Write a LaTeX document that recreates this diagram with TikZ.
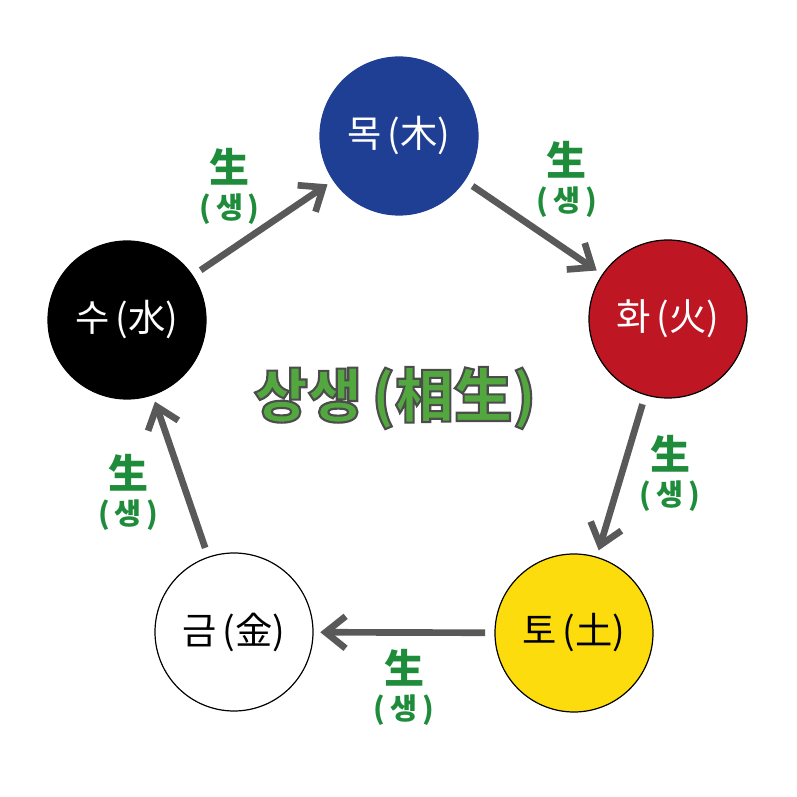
\documentclass[tikz,border=0pt]{standalone}
\usepackage{fontspec}
\newfontfamily\krfont{Noto Sans CJK KR}
\usetikzlibrary{arrows.meta}
\definecolor{mokblue}{HTML}{1F3F94}
\definecolor{hwared}{HTML}{BE1622}
\definecolor{toyellow}{HTML}{FCDC0C}
\definecolor{arrowgray}{HTML}{595959}
\definecolor{shenggreen}{HTML}{1E8C3A}
\definecolor{titlegreen}{HTML}{52A83E}
\newcommand{\strokedtext}[1]{\special{pdf:literal direct 0.3 0.3 0.3 RG 1.6 w 2 Tr}#1\special{pdf:literal direct 0 Tr}}
\newcommand{\shengmark}{{\fontsize{30}{30}\selectfont 生}\\{(\,생\,)}}

\begin{document}
\begin{tikzpicture}[x=0.75pt,y=0.75pt,>={Straight Barb[length=15pt,width=24pt]},auto,
  main node/.style={circle,draw,line width=0.9pt,minimum size=118.5pt,inner sep=0pt,font=\krfont\fontsize{28}{30}\selectfont},
  sheng label/.style={align=center,text=shenggreen,font=\krfont\bfseries\fontsize{22}{27}\selectfont,inner sep=0pt}]

  \useasboundingbox (0,0) rectangle (797,797);

  \node[main node,fill=mokblue,draw=mokblue,text=white] (mok) at (399,661) {목\,(木)};
  \node[main node,fill=hwared,text=white] (hwa) at (668,478) {화\,(火)};
  \node[main node,fill=toyellow] (to) at (574,164) {토\,(土)};
  \node[main node,fill=white] (geum) at (234,165) {금\,(金)};
  \node[main node,fill=black,text=white] (su) at (127,477) {수\,(水)};

  \node[text=titlegreen,font=\krfont\bfseries\fontsize{44}{48}\selectfont] (title) at (395,399) {\strokedtext{상생\,(相生)}};

  \path[->,draw=arrowgray,line width=5pt,shorten <=7pt,shorten >=5pt]
    (su) edge node[sheng label] {\shengmark} (mok)
    (mok) edge node[sheng label,yshift=5pt] {\shengmark} (hwa)
    (hwa) edge node[sheng label,pos=.37,xshift=7pt,yshift=17pt] {\shengmark} (to)
    (to) edge node[sheng label,yshift=-10pt] {\shengmark} (geum)
    (geum) edge node[sheng label,pos=.6,xshift=-10pt,yshift=7pt] {\shengmark} (su);
\end{tikzpicture}
\end{document}
